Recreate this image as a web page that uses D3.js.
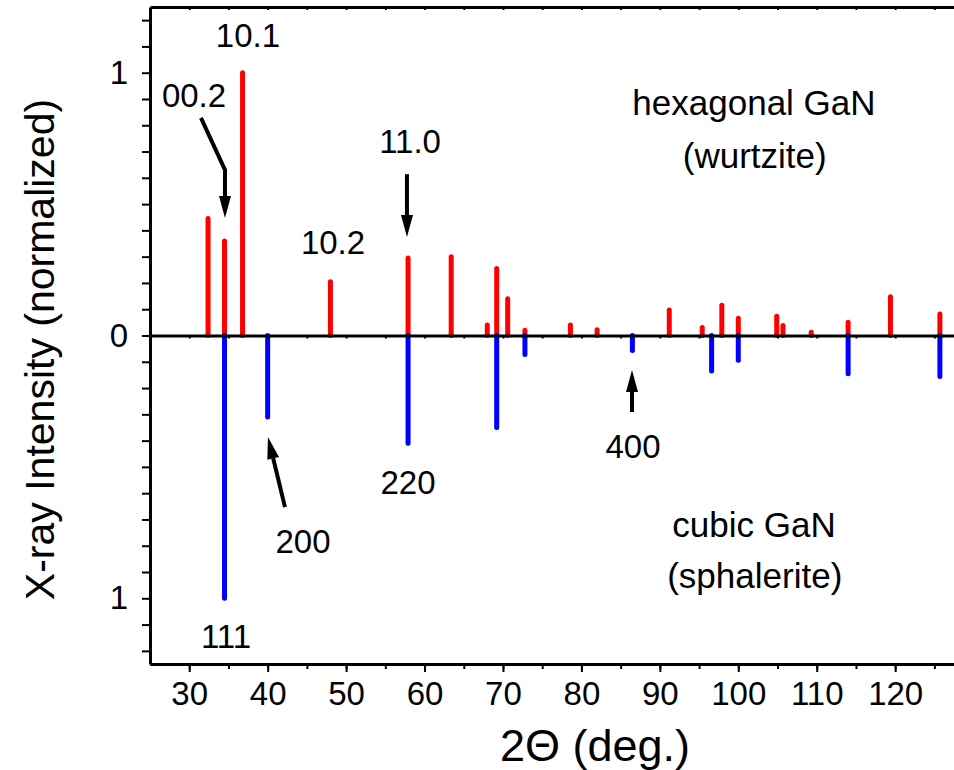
<!DOCTYPE html>
<html>
<head>
<meta charset="utf-8">
<script src="https://cdn.jsdelivr.net/npm/d3@7"></script>
<style>
  html, body { margin: 0; padding: 0; background: #fff; }
  svg { display: block; }
  text { font-family: Arial, "Liberation Sans", sans-serif; fill: #000; }
</style>
</head>
<body>
<svg id="chart" width="954" height="770"></svg>
<script>
// ---- data ----
const hexAngles = [32.4, 34.5, 36.8, 48.0, 57.9, 63.4, 68.0, 69.2, 70.6, 72.8, 78.6, 82.0, 91.2, 95.4, 97.9, 100.0, 104.9, 105.7, 109.3, 114.0, 119.4, 125.7];
const hexIntensity = [0.445, 0.36, 1.0, 0.205, 0.295, 0.30, 0.04, 0.255, 0.14, 0.02, 0.04, 0.022, 0.097, 0.03, 0.115, 0.066, 0.073, 0.038, 0.012, 0.05, 0.147, 0.082];
const cubAngles = [34.5, 40.0, 57.9, 69.2, 72.8, 86.5, 96.6, 100.0, 114.0, 125.7];
const cubIntensity = [1.0, 0.31, 0.41, 0.35, 0.072, 0.057, 0.135, 0.094, 0.146, 0.156];
const xTickLabels = [30, 40, 50, 60, 70, 80, 90, 100, 110, 120];
const yTickLabels = [-1, 0, 1];
const peakLabels = ["10.1", "00.2", "10.2", "11.0", "220", "200", "111", "400"];
const peakLabelX = [37.49, 30.61, 48.33, 58.15, 57.89, 44.51, 34.69, 86.58];
const peakLabelY = [1.098, 0.869, 0.310, 0.694, -0.603, -0.828, -1.189, -0.466];
const phaseLabels = ["hexagonal GaN", "(wurtzite)", "cubic GaN", "(sphalerite)"];
const phaseLabelX = [102.0, 102.1, 102.0, 102.1];
const phaseLabelY = [0.839, 0.637, -0.767, -0.961];
// arrows: polyline points in data units, last point is the tip
const arrows = [
  [[31.50, 0.828], [34.56, 0.630], [34.56, 0.447]],
  [[57.76, 0.614], [57.76, 0.375]],
  [[42.21, -0.653], [40.04, -0.386]],
  [[86.45, -0.291], [86.45, -0.131]]
];

// ---- layout ----
const svg = d3.select("#chart");
const mLeft = 150, mRight = 954, mTop = 7, mBottom = 664;
const x = d3.scaleLinear().domain([25, 127.5]).range([mLeft, mRight]);
const y = d3.scaleLinear().domain([-1.25, 1.25]).range([mBottom, mTop]);
const font = 'Arial, "Liberation Sans", sans-serif';

// bars
const g = svg.append("g");
g.selectAll("line.hex").data(d3.zip(hexAngles, hexIntensity)).join("line")
  .attr("class", "hex")
  .attr("x1", d => x(d[0])).attr("x2", d => x(d[0]))
  .attr("y1", y(0)).attr("y2", d => y(d[1]))
  .attr("stroke", "#ff0000").attr("stroke-width", 5).attr("stroke-linecap", "round");
g.selectAll("line.cub").data(d3.zip(cubAngles, cubIntensity)).join("line")
  .attr("class", "cub")
  .attr("x1", d => x(d[0])).attr("x2", d => x(d[0]))
  .attr("y1", y(0)).attr("y2", d => y(-d[1]))
  .attr("stroke", "#0000ff").attr("stroke-width", 5).attr("stroke-linecap", "round");

// axes
const minorX = d3.range(30, 127.5, 5);
function styleAxis(sel, w) {
  sel.select(".domain").attr("stroke", "#000").attr("stroke-width", w);
  sel.selectAll(".tick line").attr("stroke", "#000").attr("stroke-width", 2);
}
// zero line
const zeroAx = svg.append("g").attr("transform", `translate(0,${y(0)})`)
  .call(d3.axisBottom(x).tickValues(minorX).tickSize(3).tickSizeOuter(0).tickFormat(""));
styleAxis(zeroAx, 3);
// top frame
const topAx = svg.append("g").attr("transform", `translate(0,${mTop})`)
  .call(d3.axisBottom(x).tickValues(minorX).tickSize(3).tickSizeOuter(0).tickFormat(""));
styleAxis(topAx, 3);
// bottom minor
const botMinor = svg.append("g").attr("transform", `translate(0,${mBottom})`)
  .call(d3.axisBottom(x).tickValues(minorX).tickSize(5).tickSizeOuter(0).tickFormat(""));
styleAxis(botMinor, 3);
// bottom major
const botAx = svg.append("g").attr("transform", `translate(0,${mBottom})`)
  .call(d3.axisBottom(x).tickValues(xTickLabels).tickSize(8).tickSizeOuter(0).tickPadding(10));
styleAxis(botAx, 3);
botAx.selectAll("text").attr("font-family", font).attr("font-size", 33).attr("fill", "#000");
// left axis
const yMinor = d3.range(-12, 13).map(v => v / 10);
const leftAx = svg.append("g").attr("transform", `translate(${mLeft},0)`)
  .call(d3.axisLeft(y).tickValues(yMinor).tickSize(8).tickSizeOuter(0)
    .tickFormat(d => yTickLabels.includes(Math.round(d * 10) / 10) ? String(Math.abs(d)) : "").tickPadding(14));
styleAxis(leftAx, 3);
leftAx.selectAll("text").attr("font-family", font).attr("font-size", 33).attr("fill", "#000");

// axis titles
svg.append("text").attr("x", 595).attr("y", 761)
  .attr("text-anchor", "middle").attr("font-size", 45).text("2Θ (deg.)");
svg.append("text").attr("transform", `translate(54,${(mTop + mBottom) / 2 + 14}) rotate(-90)`)
  .attr("text-anchor", "middle").attr("font-size", 41).text("X-ray Intensity (normalized)");

// peak labels
svg.selectAll("text.peak").data(d3.range(peakLabels.length)).join("text")
  .attr("class", "peak")
  .attr("x", i => x(peakLabelX[i])).attr("y", i => y(peakLabelY[i]))
  .attr("text-anchor", "middle").attr("font-size", 33).text(i => peakLabels[i]);
svg.selectAll("text.phase").data(d3.range(phaseLabels.length)).join("text")
  .attr("class", "phase")
  .attr("x", i => x(phaseLabelX[i])).attr("y", i => y(phaseLabelY[i]))
  .attr("text-anchor", "middle").attr("font-size", 35).text(i => phaseLabels[i]);

// arrows
arrows.forEach(pts => {
  const p = pts.map(d => [x(d[0]), y(d[1])]);
  const tip = p[p.length - 1], prev = p[p.length - 2];
  const ang = Math.atan2(tip[1] - prev[1], tip[0] - prev[0]);
  const headLen = 22, headW = 6;
  const base = [tip[0] - headLen * Math.cos(ang), tip[1] - headLen * Math.sin(ang)];
  const line = p.slice(0, -1).concat([base]);
  svg.append("path").attr("d", d3.line()(line))
    .attr("fill", "none").attr("stroke", "#000").attr("stroke-width", 4);
  const nx = -Math.sin(ang), ny = Math.cos(ang);
  svg.append("path").attr("d", d3.line()([
    tip, [base[0] + nx * headW, base[1] + ny * headW], [base[0] - nx * headW, base[1] - ny * headW]
  ]) + "Z").attr("fill", "#000");
});
</script>
</body>
</html>
